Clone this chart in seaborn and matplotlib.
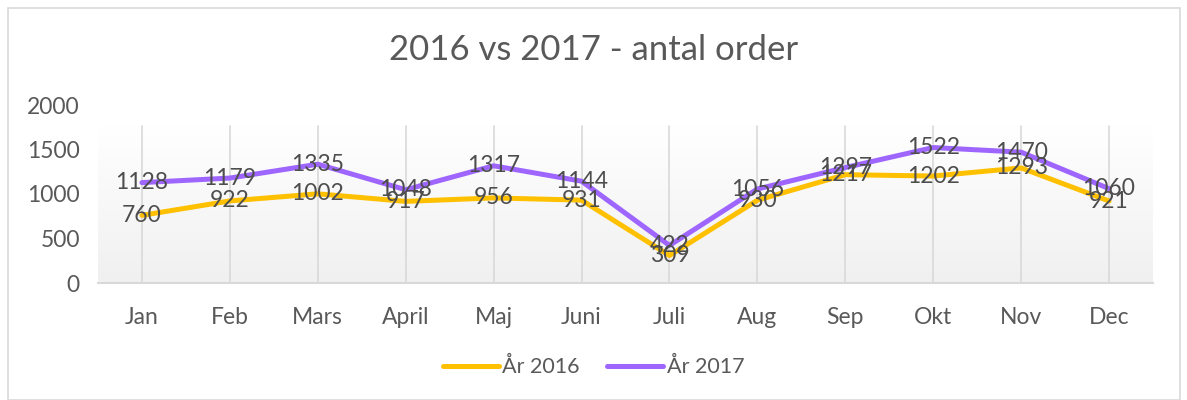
import matplotlib
matplotlib.use('Agg')
import matplotlib.pyplot as plt
from matplotlib.patches import Rectangle
import numpy as np
import pandas as pd
import seaborn as sns

months = ['Jan', 'Feb', 'Mars', 'April', 'Maj', 'Juni', 'Juli', 'Aug', 'Sep', 'Okt', 'Nov', 'Dec']
orders_2016 = [760, 922, 1002, 917, 956, 931, 309, 930, 1217, 1202, 1293, 921]
orders_2017 = [1128, 1179, 1335, 1048, 1317, 1144, 422, 1056, 1297, 1522, 1470, 1060]
series = ['År 2016', 'År 2017']
colors = ['#FFC000', '#9E66FF']

# Long format for seaborn
data = pd.DataFrame({
    'month': months * 2,
    'pos': list(range(len(months))) * 2,
    'orders': orders_2016 + orders_2017,
    'series': [series[0]] * len(months) + [series[1]] * len(months),
})

sns.set_theme(style='white')
plt.rcParams['font.family'] = ['Lato', 'DejaVu Sans']
TEXT = '#595959'

fig = plt.figure(figsize=(11.87, 4.0), dpi=100)
ax = fig.add_axes([98 / 1187, 1 - 283 / 400, (1153 - 98) / 1187, (283 - 105) / 400])

# chart border
fig.patches.append(Rectangle((8 / 1187, 0.0), (1180 - 8) / 1187, 1 - 8 / 400,
                             transform=fig.transFigure, fill=False,
                             edgecolor='#d9d9d9', lw=1.2))

# gradient plot area fill
grad = np.linspace(0, 1, 256).reshape(-1, 1)
ax.imshow(grad, extent=(0, 1, 0, 0.88), transform=ax.transAxes, aspect='auto',
          cmap=matplotlib.colors.LinearSegmentedColormap.from_list('g', ['#f0f0f0', '#ffffff']),
          origin='lower', zorder=0)

for i in range(len(months)):
    ax.plot([i, i], [0, 1760], color='#d9d9d9', lw=1.2, zorder=1)

sns.lineplot(data=data, x='pos', y='orders', hue='series', palette=colors,
             linewidth=3.6, ax=ax, legend=False, zorder=3)

for vals in (orders_2016, orders_2017):
    for i, v in enumerate(vals):
        ax.text(i, v, str(v), ha='center', va='center', fontsize=16.5, color='#4d4d4d', zorder=5)

ax.set_xlim(-0.5, len(months) - 0.5)
ax.set_ylim(0, 2000)
ax.set_yticks([0, 500, 1000, 1500, 2000])
ax.set_xticks(range(len(months)))
ax.set_xticklabels(months)
ax.tick_params(axis='both', length=0, labelsize=16.5, labelcolor=TEXT)
ax.tick_params(axis='x', pad=17)
ax.tick_params(axis='y', pad=13)
ax.set_xlabel('')
ax.set_ylabel('')
for side in ('top', 'right', 'left'):
    ax.spines[side].set_visible(False)
ax.spines['bottom'].set_color('#d9d9d9')
ax.spines['bottom'].set_linewidth(1.5)
ax.set_facecolor('none')

fig.text(0.5, 1 - 50 / 400, '2016 vs 2017 - antal order', ha='center', va='center',
         fontsize=25, color=TEXT)

handles = [plt.Line2D([], [], color=c, lw=3.6, solid_capstyle='round') for c in colors]
fig.legend(handles, series, loc='center', bbox_to_anchor=(0.5, 1 - 367 / 400), ncol=2,
           frameon=False, fontsize=15.5, labelcolor=TEXT, handlelength=2.6,
           handletextpad=0.15, columnspacing=1.3)

fig.savefig('out.png', dpi=100)
